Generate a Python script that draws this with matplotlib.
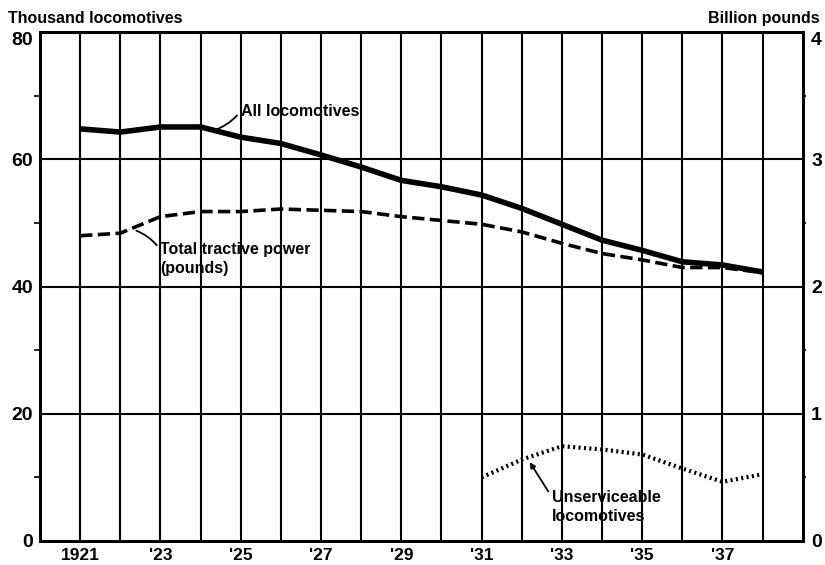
import numpy as np
import matplotlib
matplotlib.use("Agg")
import matplotlib.pyplot as plt
import matplotlib.transforms as mtransforms

plt.rcParams['font.family'] = ['Liberation Sans', 'DejaVu Sans']

years = list(range(1921, 1939))
# thousand locomotives
all_loco = [64.8, 64.3, 65.1, 65.1, 63.5, 62.5, 60.7, 58.8, 56.7,
            55.7, 54.4, 52.3, 49.8, 47.3, 45.7, 43.9, 43.4, 42.3]
# billion pounds
tractive = [2.40, 2.42, 2.55, 2.59, 2.59, 2.61, 2.60, 2.59, 2.55,
            2.52, 2.49, 2.43, 2.34, 2.26, 2.21, 2.15, 2.15, 2.11]
unserv_years = list(range(1931, 1939))
unserv = [10.0, 12.8, 14.9, 14.4, 13.6, 11.4, 9.3, 10.5]

xtick_years = [1921, 1923, 1925, 1927, 1929, 1931, 1933, 1935, 1937]
xtick_labels = ["1921", "'23", "'25", "'27", "'29", "'31", "'33", "'35", "'37"]

fig = plt.figure(figsize=(8.25, 5.65), dpi=100)
ax = fig.add_axes([0.0485, 0.0425, 0.9245, 0.9005])
ax2 = ax.twinx()

ax.set_xlim(1920, 1939)
ax.set_ylim(0, 80)
ax2.set_ylim(0, 4)

for y in years:
    ax.axvline(y, color="black", lw=1.5, zorder=1)
for v in [20, 40, 60]:
    ax.axhline(v, color="black", lw=1.5, zorder=1)

ax.plot(years, all_loco, color="black", lw=4, solid_capstyle="butt", zorder=3)
ax2.plot(years, tractive, color="black", lw=2.6, dashes=(3.4, 1.5), zorder=3)
ax.plot(unserv_years, unserv, color="black", lw=3, ls=(0, (0.5, 0.8)), zorder=3)

ax.set_xticks(xtick_years)
ax.set_xticklabels(xtick_labels, fontsize=12.5, fontweight="bold")
ax.set_yticks([0, 20, 40, 60, 80])
ax.set_yticklabels(["0", "20", "40", "60", "80"], fontsize=14, fontweight="bold")
ax.set_yticks([10, 30, 50, 70], minor=True)
ax.tick_params(axis="x", which="major", length=0, pad=5)
ax.tick_params(axis="y", which="major", length=0, pad=5)
ax.tick_params(axis="y", which="minor", length=4, width=1.2, direction="out")
ax2.set_yticks([0, 1, 2, 3, 4])
ax2.set_yticklabels(["0", "1", "2", "3", "4"], fontsize=14, fontweight="bold")
ax2.set_yticks([0.5, 1.5, 2.5, 3.5], minor=True)
ax2.tick_params(axis="y", which="major", length=0, pad=6)
ax2.tick_params(axis="y", which="minor", length=2, width=1.2, direction="out")

# top labels sit a little lower, below the unit captions
shift = mtransforms.ScaledTranslation(0, -6 / 100, fig.dpi_scale_trans)
for lab in (ax.get_yticklabels()[-1], ax2.get_yticklabels()[-1]):
    lab.set_transform(lab.get_transform() + shift)

for a in (ax, ax2):
    for s in a.spines.values():
        s.set_linewidth(2)

fig.text(0.01, 0.967, "Thousand locomotives", fontsize=11.5, fontweight="bold",
         va="center", ha="left")
fig.text(0.993, 0.967, "Billion pounds", fontsize=11.5, fontweight="bold",
         va="center", ha="right")

ax.annotate("All locomotives", xy=(1924.35, 64.6), xytext=(1925.0, 67.6),
            fontsize=11.5, fontweight="bold", va="center", ha="left",
            arrowprops=dict(arrowstyle="-", color="black", lw=1.3,
                            connectionstyle="arc3,rad=-0.15",
                            shrinkA=1, shrinkB=0, relpos=(0, 0.5)))
ax.annotate("Total tractive power\n(pounds)", xy=(1922.4, 48.8),
            xytext=(1923.0, 44.4), fontsize=11.5, fontweight="bold",
            va="center", ha="left", linespacing=1.35,
            arrowprops=dict(arrowstyle="-", color="black", lw=1.3,
                            connectionstyle="arc3,rad=0.15",
                            shrinkA=1, shrinkB=0, relpos=(0, 0.75)))
ax.annotate("Unserviceable\nlocomotives", xy=(1932.2, 12.4),
            xytext=(1932.75, 5.4), fontsize=11.5, fontweight="bold",
            va="center", ha="left", linespacing=1.35,
            arrowprops=dict(arrowstyle="-|>", color="black", lw=1.3,
                            mutation_scale=8, shrinkA=1, shrinkB=0,
                            relpos=(0, 0.78)))

fig.savefig("out.png", dpi=100)
